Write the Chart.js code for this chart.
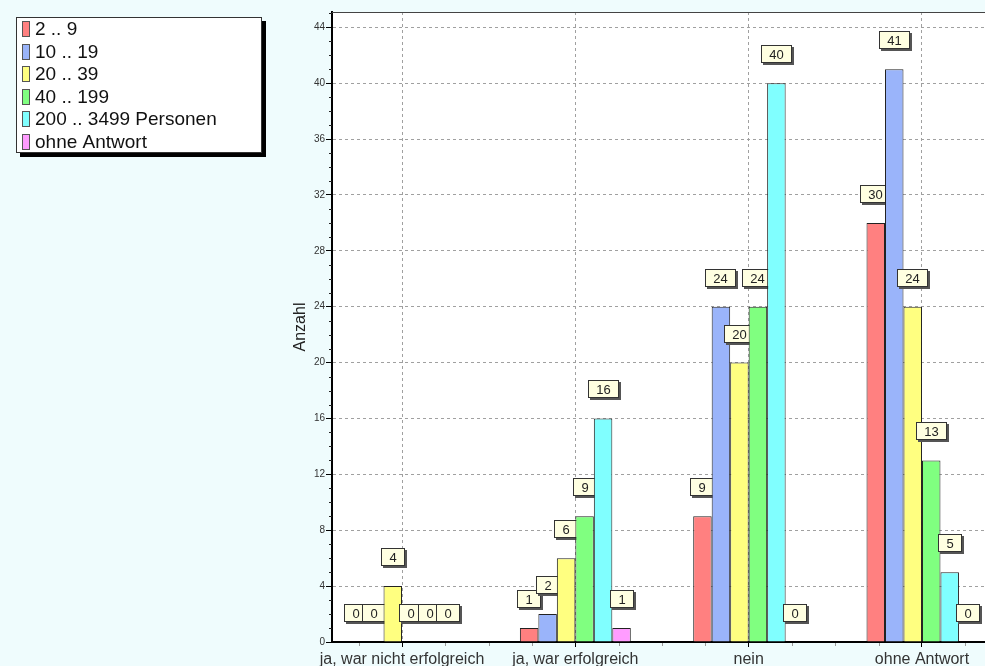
<!DOCTYPE html>
<html>
<head>
<meta charset="utf-8">
<title>Anzahl</title>
<script src="https://cdn.jsdelivr.net/npm/chart.js@4"></script>
<style>
  html, body { margin: 0; padding: 0; overflow: hidden; background: #effcfd; }
  #chart { display: block; }
</style>
</head>
<body>
<canvas id="chart" width="1044" height="666"></canvas>
<script>
const categories = ['ja, war nicht erfolgreich', 'ja, war erfolgreich', 'nein', 'ohne Antwort'];
const seriesNames = ['2 .. 9', '10 .. 19', '20 .. 39', '40 .. 199', '200 .. 3499 Personen', 'ohne Antwort'];
const values2to9 = [0, 1, 9, 30];
const values10to19 = [0, 2, 24, 41];
const values20to39 = [4, 6, 20, 24];
const values40to199 = [0, 9, 24, 13];
const values200to3499 = [0, 16, 40, 5];
const valuesNoAnswer = [0, 1, 0, 0];
const yTicks = [0, 4, 8, 12, 16, 20, 24, 28, 32, 36, 40, 44];
const colors = ['#ff8080', '#9ab4fa', '#ffff80', '#80ff80', '#80ffff', '#ff9cff'];

const allValues = [values2to9, values10to19, values20to39, values40to199, values200to3499, valuesNoAnswer];
const FONT = '"Liberation Sans", Arial, sans-serif';
Chart.defaults.font.family = FONT;

// white plot area behind grid and bars
const plotBackground = {
    id: 'plotBackground',
    beforeDraw(chart) {
        const { ctx, chartArea } = chart;
        ctx.save();
        ctx.fillStyle = '#ffffff';
        ctx.fillRect(chartArea.left, chartArea.top, chartArea.right - chartArea.left, chartArea.bottom - chartArea.top);
        ctx.restore();
    },
    afterDraw(chart) {
        const { ctx, chartArea } = chart;
        ctx.save();
        ctx.strokeStyle = '#444';
        ctx.lineWidth = 1;
        ctx.beginPath();
        ctx.moveTo(chartArea.left, chartArea.top + 0.5);
        ctx.lineTo(chartArea.right, chartArea.top + 0.5);
        ctx.stroke();
        ctx.restore();
    }
};

// small ticks between the labelled ones
const minorTicks = {
    id: 'minorTicks',
    afterDraw(chart) {
        const { ctx, chartArea } = chart;
        const x = chart.scales.x;
        const y = chart.scales.y;
        ctx.save();
        ctx.strokeStyle = '#222';
        ctx.lineWidth = 1;
        ctx.beginPath();
        for (let v = 1; v <= y.max; v++) {
            if (v % 4 === 0) continue;
            const py = Math.round(y.getPixelForValue(v)) + 0.5;
            ctx.moveTo(chartArea.left - 3, py);
            ctx.lineTo(chartArea.left, py);
        }
        ctx.stroke();
        ctx.strokeStyle = '#999';
        ctx.beginPath();
        for (let v = -0.25; v <= x.max; v += 0.25) {
            if (Math.abs(v - Math.round(v)) < 0.01) continue;
            const px = Math.round(x.getPixelForValue(v)) + 0.5;
            ctx.moveTo(px, chartArea.bottom + 1);
            ctx.lineTo(px, chartArea.bottom + 4);
        }
        ctx.stroke();
        ctx.restore();
    }
};

function drawValueBox(ctx, cx, cy, text) {
    ctx.font = '13px ' + FONT;
    const w = Math.round(ctx.measureText(text).width + 17);
    const h = 18;
    const x0 = Math.round(cx - w / 2);
    const y0 = Math.round(cy - h / 2);
    ctx.fillStyle = '#555';
    ctx.fillRect(x0 + 2, y0 + 2, w, h);
    ctx.fillStyle = '#ffffe1';
    ctx.fillRect(x0, y0, w, h);
    ctx.strokeStyle = '#333';
    ctx.lineWidth = 1;
    ctx.strokeRect(x0 + 0.5, y0 + 0.5, w - 1, h - 1);
    ctx.fillStyle = '#222';
    ctx.textAlign = 'center';
    ctx.textBaseline = 'middle';
    ctx.fillText(text, x0 + w / 2, y0 + h / 2 + 1);
}

// each series is drawn with its value boxes before the next one,
// so later bars may overlap earlier boxes
const barsAndLabels = {
    id: 'barsAndLabels',
    beforeDatasetsDraw(chart) {
        const ctx = chart.ctx;
        chart.data.datasets.forEach((ds, i) => {
            const meta = chart.getDatasetMeta(i);
            ctx.save();
            meta.controller.draw();
            meta.data.forEach((bar, j) => {
                drawValueBox(ctx, bar.x, bar.y - 29, String(ds.data[j].y));
            });
            ctx.restore();
        });
        return false;
    }
};

const legendBox = {
    id: 'legendBox',
    afterDraw(chart) {
        const ctx = chart.ctx;
        const x0 = 16, y0 = 17, w = 246, h = 136;
        ctx.save();
        ctx.fillStyle = '#000';
        ctx.fillRect(x0 + 4, y0 + 4, w, h);
        ctx.fillStyle = '#fff';
        ctx.fillRect(x0, y0, w, h);
        ctx.strokeStyle = '#333';
        ctx.lineWidth = 1;
        ctx.strokeRect(x0 + 0.5, y0 + 0.5, w - 1, h - 1);
        ctx.font = '19px ' + FONT;
        ctx.textAlign = 'left';
        ctx.textBaseline = 'middle';
        chart.data.datasets.forEach((ds, i) => {
            const cy = 29 + i * 22.5;
            ctx.fillStyle = ds.backgroundColor;
            ctx.fillRect(22, Math.round(cy - 8), 8, 16);
            ctx.strokeStyle = '#555';
            ctx.strokeRect(22.5, Math.round(cy - 8) + 0.5, 7, 15);
            ctx.fillStyle = '#111';
            ctx.fillText(ds.label, 35, cy + 1);
        });
        ctx.restore();
    }
};

new Chart(document.getElementById('chart'), {
    type: 'bar',
    data: {
        datasets: seriesNames.map((name, i) => ({
            label: name,
            data: allValues[i].map((v, j) => ({ x: j, y: v })),
            backgroundColor: colors[i],
            borderColor: '#222',
            borderWidth: 1,
            categoryPercentage: 0.64,
            barPercentage: 1.0
        }))
    },
    options: {
        responsive: false,
        animation: false,
        layout: { padding: { left: 280, top: 12, right: 0, bottom: 0 } },
        plugins: {
            legend: { display: false },
            tooltip: { enabled: false }
        },
        scales: {
            x: {
                type: 'linear',
                min: -0.404,
                max: 3.704,
                offset: false,
                afterBuildTicks: scale => { scale.ticks = categories.map((_, i) => ({ value: i })); },
                afterFit: scale => { scale.height = 24; },
                grid: { offset: false, color: '#a0a0a0', tickLength: 5, tickColor: '#000', tickWidth: 1 },
                border: { color: '#000', width: 2, dash: [3, 3] },
                ticks: {
                    autoSkip: false,
                    maxRotation: 0,
                    padding: 3,
                    color: '#333',
                    font: { size: 16 },
                    callback: v => categories[v]
                }
            },
            y: {
                min: 0,
                max: 45.1,
                afterBuildTicks: scale => { scale.ticks = yTicks.map(v => ({ value: v })); },
                afterFit: scale => { scale.width = 52; },
                grid: { color: '#a0a0a0', tickLength: 6, tickColor: '#000', tickWidth: 1 },
                border: { color: '#000', width: 2, dash: [3, 3] },
                ticks: { padding: 1, color: '#333', font: { size: 10 } },
                title: {
                    display: true,
                    text: 'Anzahl',
                    color: '#222',
                    font: { size: 16 },
                    padding: { top: 11, bottom: 0 }
                }
            }
        }
    },
    plugins: [plotBackground, minorTicks, barsAndLabels, legendBox]
});
</script>
</body>
</html>
